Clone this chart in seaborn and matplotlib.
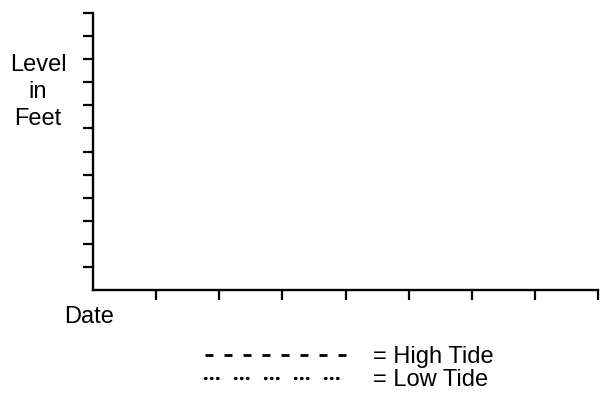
import matplotlib
matplotlib.use("Agg")
import matplotlib.pyplot as plt
from matplotlib.lines import Line2D
import seaborn as sns

# ---- data (blank worksheet: tick counts and legend entries only) ----
date_ticks = [1, 2, 3, 4, 5, 6, 7, 8]
level_ticks = [1, 2, 3, 4, 5, 6, 7, 8, 9, 10, 11, 12]
series_names = ["High Tide", "Low Tide"]

sns.set_style("ticks")
plt.rcParams["font.family"] = ["Liberation Sans", "DejaVu Sans"]
plt.rcParams["lines.scale_dashes"] = False
plt.rcParams["text.color"] = "black"

W, H = 603, 399
fig = plt.figure(figsize=(W / 100, H / 100), dpi=100)
ax = fig.add_axes([93 / W, 1 - 290 / H, (598 - 93) / W, (290 - 13) / H])

ax.set_xlim(0, len(date_ticks))
ax.set_ylim(0, len(level_ticks))
ax.set_xticks(date_ticks)
ax.set_yticks(level_ticks)
ax.set_xticklabels([])
ax.set_yticklabels([])
ax.tick_params(axis="both", direction="out", length=7.2, width=1.6, color="black")
sns.despine(ax=ax, top=True, right=True)
for s in ("left", "bottom"):
    ax.spines[s].set_linewidth(1.7)
    ax.spines[s].set_color("black")

ax.set_ylabel("Level\nin\nFeet", rotation=0, fontsize=17, ha="center", va="center",
              linespacing=1.28, color="black")
ax.yaxis.set_label_coords(-0.109, 0.715)
ax.set_xlabel("Date", fontsize=17, ha="center", va="center", color="black")
ax.xaxis.set_label_coords(-0.008, -0.097)

px = 72 / 100  # points per pixel
styles = {
    "High Tide": (0, (8 * px, 11 * px)),
    "Low Tide": (0, (0.5 * px, 5.5 * px, 0.5 * px, 5.5 * px, 0.5 * px, 17.5 * px)),
}
caps = {"High Tide": "butt", "Low Tide": "round"}
widths = {"High Tide": 2.0, "Low Tide": 2.4}
handles = [Line2D([], [], color="black", linewidth=widths[n], linestyle=styles[n],
                  dash_capstyle=caps[n]) for n in series_names]
leg = fig.legend(handles, ["= " + n for n in series_names], loc="upper left",
                 bbox_to_anchor=(205 / W, 1 - 346 / H), frameon=False, fontsize=17,
                 handlelength=6.27, handletextpad=0.85, borderpad=0, borderaxespad=0,
                 labelspacing=0.05)
for t in leg.get_texts():
    t.set_color("black")

fig.savefig("out.png", dpi=100, facecolor="white")
